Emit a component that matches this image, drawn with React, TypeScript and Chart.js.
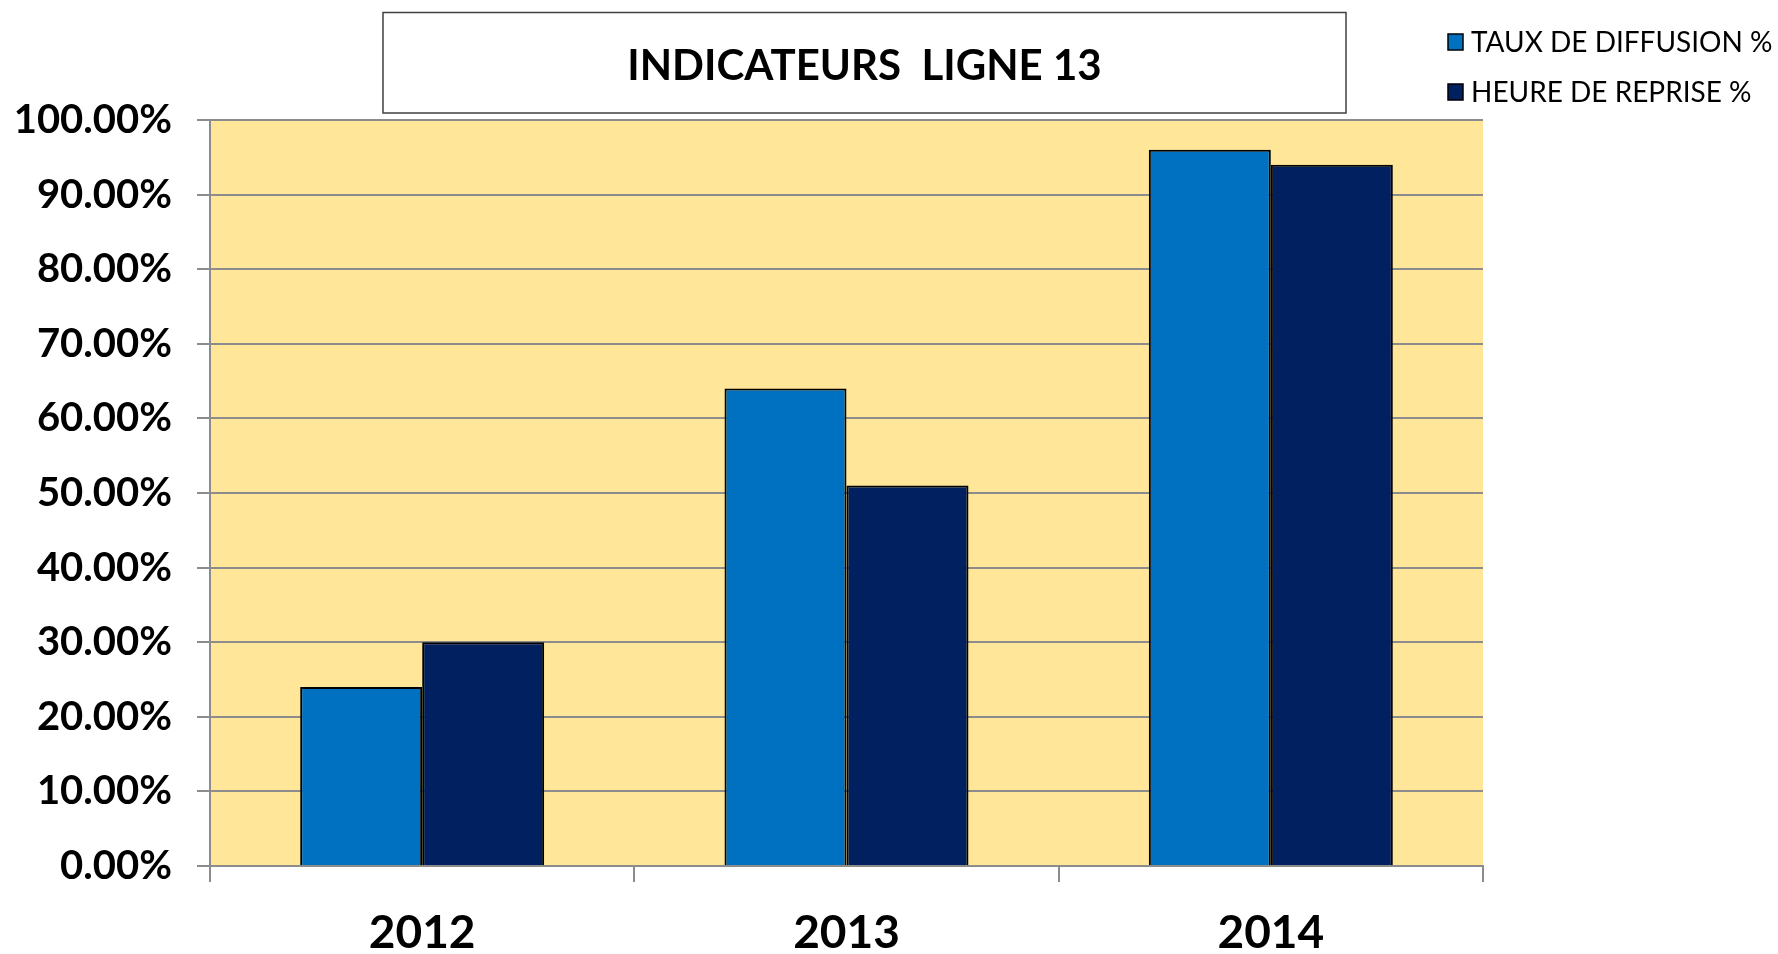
import React, { useEffect, useRef } from "react";
import { Chart, registerables } from "chart.js";

Chart.register(...registerables);

const years = ["2012", "2013", "2014"];
const tauxDiffusion = [24, 64, 96];
const heureReprise = [30, 51, 94];
const seriesNames = ["TAUX DE DIFFUSION %", "HEURE DE REPRISE %"];
const seriesColors = ["#0070C0", "#002060"];
const chartTitle = "INDICATEURS  LIGNE 13";

const GRID = "#8c8c8c";

const decorPlugin = {
  id: "decor",
  beforeDraw(chart: any) {
    const { ctx, chartArea } = chart;
    ctx.save();
    ctx.fillStyle = "#FFE699";
    ctx.fillRect(chartArea.left, chartArea.top, chartArea.right - chartArea.left, chartArea.bottom - chartArea.top);
    ctx.restore();
  },
  afterDraw(chart: any) {
    const { ctx } = chart;
    ctx.save();
    // title box
    const bx = 383, by = 12.5, bw = 1346 - 383, bh = 113 - 12.5;
    ctx.fillStyle = "#ffffff";
    ctx.fillRect(bx, by, bw, bh);
    ctx.strokeStyle = "#404040";
    ctx.lineWidth = 1.5;
    ctx.strokeRect(bx, by, bw, bh);
    ctx.fillStyle = "#000";
    ctx.font = "bold 42px Lato";
    ctx.textAlign = "center";
    ctx.textBaseline = "middle";
    ctx.fillText(chartTitle, bx + bw / 2, 66);
    // legend
    ctx.font = "28px Lato";
    ctx.textAlign = "left";
    const ys = [42, 92];
    seriesNames.forEach((name, i) => {
      const cy = ys[i];
      ctx.fillStyle = seriesColors[i];
      ctx.fillRect(1448, cy - 8, 15, 16);
      ctx.strokeStyle = "#000";
      ctx.lineWidth = 1.5;
      ctx.strokeRect(1448, cy - 8, 15, 16);
      ctx.fillStyle = "#000";
      ctx.fillText(name, 1471, cy + 1);
    });
    ctx.restore();
  },
};

export default function App() {
  const ref = useRef<HTMLCanvasElement>(null);
  useEffect(() => {
    document.body.style.margin = "0";
    const canvas = ref.current!;
    const chart = new Chart(canvas, {
      type: "bar",
      data: {
        labels: years,
        datasets: [
          {
            label: seriesNames[0],
            data: tauxDiffusion,
            backgroundColor: seriesColors[0],
            borderColor: "#000",
            borderWidth: 2,
          },
          {
            label: seriesNames[1],
            data: heureReprise,
            backgroundColor: seriesColors[1],
            borderColor: "#000",
            borderWidth: 2,
          },
        ],
      },
      options: {
        responsive: false,
        animation: false,
        devicePixelRatio: 1,
        layout: { padding: { top: 120, right: 295, left: 0, bottom: 0 } },
        datasets: { bar: { categoryPercentage: 0.575, barPercentage: 1 } },
        plugins: {
          legend: { display: false },
          title: { display: false },
          tooltip: { enabled: false },
        },
        scales: {
          x: {
            grid: {
              drawOnChartArea: false,
              drawTicks: true,
              tickLength: 16,
              color: GRID,
              lineWidth: 2,
              offset: true,
            },
            border: { display: true, color: GRID, width: 2 },
            ticks: {
              color: "#000",
              font: { family: "Lato", size: 46, weight: "bold" },
              padding: 24,
            },
            afterFit(scale: any) {
              scale.height = 954 - 866;
            },
          },
          y: {
            min: 0,
            max: 100,
            grid: { color: GRID, lineWidth: 2, tickLength: 13, drawTicks: true },
            border: { display: true, color: GRID, width: 2 },
            ticks: {
              stepSize: 10,
              color: "#000",
              font: { family: "Lato", size: 40, weight: "bold" },
              padding: 25,
              callback: (v: any) => Number(v).toFixed(2) + "%",
            },
            afterFit(scale: any) {
              scale.width = 210;
            },
          },
        },
      },
      plugins: [decorPlugin],
    });
    return () => chart.destroy();
  }, []);
  return (
    <canvas
      ref={ref}
      width={1778}
      height={954}
      style={{ display: "block", width: 1778, height: 954 }}
    />
  );
}
